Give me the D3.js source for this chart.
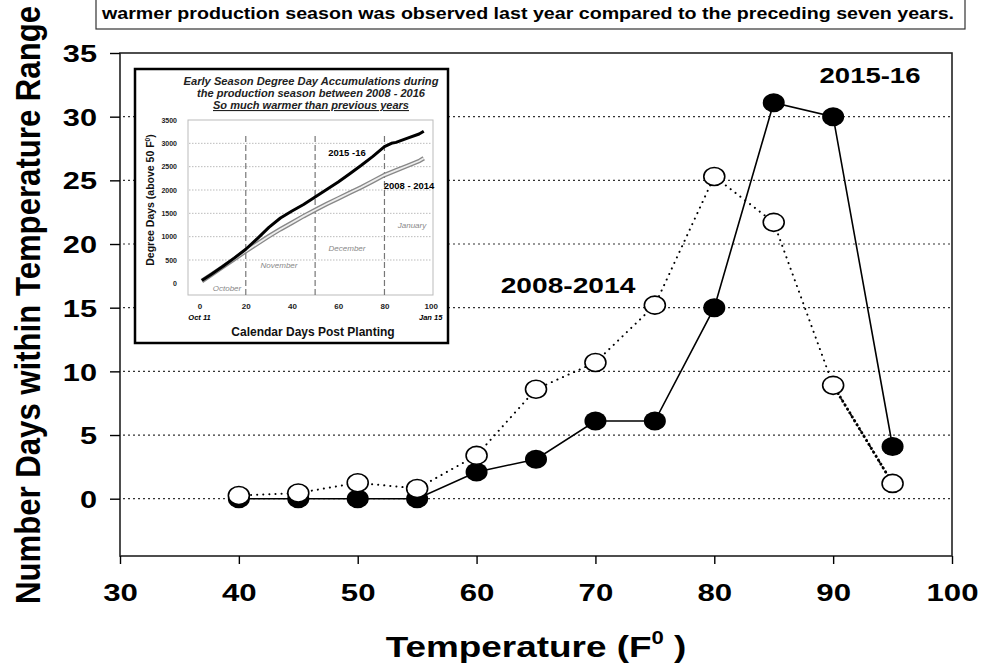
<!DOCTYPE html>
<html>
<head>
<meta charset="utf-8">
<script src="https://cdn.jsdelivr.net/npm/d3@7"></script>
<style>
    body { margin: 0; background: #fff; }
    svg { display: block; font-family: Arial, "Liberation Sans", sans-serif; }
</style>
</head>
<body>
<svg id="chart" width="984" height="669"></svg>
<script>
// Main chart: days in each temperature bin
var temps = [40, 45, 50, 55, 60, 65, 70, 75, 80, 85, 90, 95];
var days2015 = [0, 0, 0, 0, 2.1, 3.1, 6.1, 6.1, 15, 31.1, 30, 4.1];
var days2008 = [0.25, 0.45, 1.25, 0.8, 3.4, 8.6, 10.7, 15.2, 25.3, 21.7, 8.9, 1.2];
var xTicks = [30, 40, 50, 60, 70, 80, 90, 100];
var yTicks = [0, 5, 10, 15, 20, 25, 30, 35];
var gridVals = [0, 5, 10, 15, 20, 25, 30];

// Inset: degree day accumulation
var insetDays2015 = [1, 5, 10, 15, 20, 25, 30, 35, 40, 45, 50, 55, 60, 65, 70, 75, 80, 83, 85, 90, 95, 97];
var dd2015 = [60, 190, 360, 540, 730, 960, 1200, 1400, 1550, 1690, 1850, 2010, 2170, 2350, 2530, 2720, 2930, 3000, 3020, 3110, 3200, 3260];
var insetDays2008 = [1, 5, 10, 15, 20, 25, 30, 35, 40, 45, 50, 55, 60, 65, 70, 75, 80, 85, 90, 95, 97];
var dd2008 = [50, 180, 350, 520, 690, 850, 1010, 1160, 1300, 1440, 1570, 1700, 1820, 1940, 2060, 2190, 2320, 2420, 2520, 2620, 2680];
var insetXTicks = [0, 20, 40, 60, 80, 100];
var insetYTicks = [0, 500, 1000, 1500, 2000, 2500, 3000, 3500];
var insetGrid = [500, 1000, 1500, 2000, 2500, 3000];
var monthBreaks = [20, 50, 80];

var svg = d3.select("#chart");

// Header box (cut off at top of picture)
svg.append("rect")
    .attr("x", 96).attr("y", -5)
    .attr("width", 869).attr("height", 34)
    .attr("fill", "#fff").attr("stroke", "#333").attr("stroke-width", 1.2);
svg.append("text")
    .attr("x", 102).attr("y", 19)
    .attr("font-family", "'Liberation Sans Narrow', 'Arial Narrow', 'Liberation Sans', Arial")
    .attr("font-size", "17px").attr("font-weight", "bold")
    .attr("textLength", 852).attr("lengthAdjust", "spacingAndGlyphs")
    .text("warmer production season was observed last year compared to the preceding seven years.");

// ---- main plot ----
var x = d3.scaleLinear().domain([30, 100]).range([120, 952]);
var y = d3.scaleLinear().domain([-4.5, 35]).range([556, 53]);

svg.append("g").selectAll(".grid")
    .data(gridVals)
    .enter()
    .append("line")
    .attr("class", "grid")
    .attr("x1", 123).attr("x2", 950)
    .attr("y1", function (d) { return y(d); })
    .attr("y2", function (d) { return y(d); })
    .attr("stroke", "#333").attr("stroke-width", 1.2)
    .attr("stroke-dasharray", "2,3");

svg.append("rect")
    .attr("x", 120).attr("y", 53)
    .attr("width", 832).attr("height", 503)
    .attr("fill", "none").attr("stroke", "#222").attr("stroke-width", 1.6);

var yAxis = svg.append("g")
    .attr("transform", "translate(120,0)")
    .call(d3.axisLeft(y).tickValues(yTicks).tickSize(10).tickSizeOuter(0));
yAxis.select(".domain").remove();
yAxis.selectAll("line").attr("stroke", "#000").attr("stroke-width", 1.4);
yAxis.selectAll("text")
    .attr("x", 0).attr("dy", "0.36em")
    .attr("transform", "translate(-23,0) scale(1.28,1)")
    .attr("font-size", "24px").attr("font-weight", "bold")
    .attr("font-family", "Arial, 'Liberation Sans'").attr("fill", "#000");

var xAxis = svg.append("g")
    .attr("transform", "translate(0,556)")
    .call(d3.axisBottom(x).tickValues(xTicks).tickSize(8).tickSizeOuter(0));
xAxis.select(".domain").remove();
xAxis.selectAll("line").attr("stroke", "#000").attr("stroke-width", 1.4);
xAxis.selectAll("text")
    .attr("y", 0).attr("dy", 0)
    .attr("transform", "translate(0,45) scale(1.3,1)")
    .attr("font-size", "24px").attr("font-weight", "bold")
    .attr("font-family", "Arial, 'Liberation Sans'").attr("fill", "#000");

// axis titles
svg.append("text")
    .attr("transform", "translate(40,305) rotate(-90) scale(1,1.15)")
    .attr("text-anchor", "middle")
    .attr("font-size", "30px").attr("font-weight", "bold")
    .attr("textLength", 598).attr("lengthAdjust", "spacingAndGlyphs")
    .text("Number  Days within Temperature Range");

var xTitle = svg.append("text")
    .attr("transform", "translate(536,657) scale(1.23,1)")
    .attr("text-anchor", "middle")
    .attr("font-size", "30px").attr("font-weight", "bold");
xTitle.append("tspan").text("Temperature (F");
xTitle.append("tspan").attr("dy", -13).attr("font-size", "18px").text("0");
xTitle.append("tspan").attr("dy", 13).text(" )");

// series
var mainLine = d3.line()
    .x(function (d) { return x(d[0]); })
    .y(function (d) { return y(d[1]); });
var pts2015 = temps.map(function (t, i) { return [t, days2015[i]]; });
var pts2008 = temps.map(function (t, i) { return [t, days2008[i]]; });

svg.append("path")
    .attr("d", mainLine(pts2015))
    .attr("fill", "none").attr("stroke", "#000").attr("stroke-width", 1.6);
svg.append("path")
    .attr("d", mainLine(pts2008))
    .attr("fill", "none").attr("stroke", "#000").attr("stroke-width", 2)
    .attr("stroke-linecap", "round").attr("stroke-dasharray", "0.1,6");
// heavier dots on the last segment
svg.append("path")
    .attr("d", mainLine(pts2008.slice(-2)))
    .attr("fill", "none").attr("stroke", "#000").attr("stroke-width", 3)
    .attr("stroke-linecap", "round").attr("stroke-dasharray", "0.1,4.5");

svg.append("g").selectAll("ellipse")
    .data(pts2015)
    .enter()
    .append("ellipse")
    .attr("cx", function (d) { return x(d[0]); })
    .attr("cy", function (d) { return y(d[1]); })
    .attr("rx", 11).attr("ry", 9.5)
    .attr("fill", "#000");
svg.append("g").selectAll("ellipse")
    .data(pts2008)
    .enter()
    .append("ellipse")
    .attr("cx", function (d) { return x(d[0]); })
    .attr("cy", function (d) { return y(d[1]); })
    .attr("rx", 10.5).attr("ry", 9)
    .attr("fill", "#fff").attr("stroke", "#000").attr("stroke-width", 1.6);

svg.append("text")
    .attr("transform", "translate(870,83) scale(1.25,1)")
    .attr("text-anchor", "middle")
    .attr("font-size", "22px").attr("font-weight", "bold")
    .text("2015-16");
svg.append("text")
    .attr("transform", "translate(568,293) scale(1.28,1)")
    .attr("text-anchor", "middle")
    .attr("font-size", "22px").attr("font-weight", "bold")
    .text("2008-2014");

// ---- inset ----
var inset = svg.append("g");
inset.append("rect")
    .attr("x", 135).attr("y", 69)
    .attr("width", 313).attr("height", 274)
    .attr("fill", "#fff").attr("stroke", "#000").attr("stroke-width", 2.5);

var ix = d3.scaleLinear().domain([-5, 101]).range([188, 433]);
var iy = d3.scaleLinear().domain([-250, 3500]).range([295, 120]);

var titleLines = [
    "Early Season Degree Day Accumulations during",
    "the production season between 2008 - 2016",
    "So much warmer than previous years"
];
var titleWidths = [255, 228, 196];
inset.selectAll(".ititle")
    .data(titleLines)
    .enter()
    .append("text")
    .attr("class", "ititle")
    .attr("x", 311)
    .attr("y", function (d, i) { return 85 + i * 12; })
    .attr("text-anchor", "middle")
    .attr("font-size", "11px").attr("font-weight", "bold").attr("font-style", "italic")
    .attr("fill", "#222")
    .attr("textLength", function (d, i) { return titleWidths[i]; })
    .attr("lengthAdjust", "spacingAndGlyphs")
    .attr("text-decoration", function (d, i) { return i === 2 ? "underline" : null; })
    .text(function (d) { return d; });

inset.selectAll(".igrid")
    .data(insetGrid)
    .enter()
    .append("line")
    .attr("class", "igrid")
    .attr("x1", 189).attr("x2", 432)
    .attr("y1", function (d) { return iy(d); })
    .attr("y2", function (d) { return iy(d); })
    .attr("stroke", "#aaa").attr("stroke-width", 0.8)
    .attr("stroke-dasharray", "1.5,1.5");

inset.append("rect")
    .attr("x", 188).attr("y", 120)
    .attr("width", 245).attr("height", 175)
    .attr("fill", "none").attr("stroke", "#bbb").attr("stroke-width", 1);

inset.selectAll(".month")
    .data(monthBreaks)
    .enter()
    .append("line")
    .attr("class", "month")
    .attr("x1", function (d) { return ix(d); })
    .attr("x2", function (d) { return ix(d); })
    .attr("y1", 136).attr("y2", 295)
    .attr("stroke", "#777").attr("stroke-width", 1.2)
    .attr("stroke-dasharray", "6,3");

var iyAxis = inset.append("g")
    .attr("transform", "translate(188,0)")
    .call(d3.axisLeft(iy).tickValues(insetYTicks).tickFormat(d3.format("d"))
        .tickSize(0).tickPadding(11));
iyAxis.select(".domain").remove();
iyAxis.selectAll("text")
    .attr("font-size", "7px").attr("font-weight", "bold")
    .attr("font-family", "Arial, 'Liberation Sans'").attr("fill", "#222");

var ixAxis = inset.append("g")
    .attr("transform", "translate(0,295)")
    .call(d3.axisBottom(ix).tickValues(insetXTicks).tickSize(0).tickPadding(8));
ixAxis.select(".domain").remove();
ixAxis.selectAll("text")
    .attr("font-size", "8px").attr("font-weight", "bold")
    .attr("font-family", "Arial, 'Liberation Sans'").attr("fill", "#222");

inset.append("text")
    .attr("x", ix(0)).attr("y", 320)
    .attr("text-anchor", "middle")
    .attr("font-size", "7.5px").attr("font-weight", "bold").attr("font-style", "italic")
    .text("Oct 11");
inset.append("text")
    .attr("x", ix(100)).attr("y", 320)
    .attr("text-anchor", "middle")
    .attr("font-size", "7.5px").attr("font-weight", "bold").attr("font-style", "italic")
    .text("Jan 15");

inset.append("text")
    .attr("x", 313).attr("y", 336)
    .attr("text-anchor", "middle")
    .attr("font-size", "12px").attr("font-weight", "bold").attr("fill", "#111")
    .text("Calendar Days Post Planting");

var iyTitle = inset.append("text")
    .attr("transform", "translate(154,200) rotate(-90)")
    .attr("text-anchor", "middle")
    .attr("font-size", "10.5px").attr("font-weight", "bold").attr("fill", "#111");
iyTitle.append("tspan").text("Degree Days (above 50 F");
iyTitle.append("tspan").attr("dy", -4).attr("font-size", "6.5px").text("0");
iyTitle.append("tspan").attr("dy", 4).text(")");

// month names
inset.append("text").attr("x", 227).attr("y", 291)
    .attr("text-anchor", "middle").attr("font-size", "8px").attr("font-style", "italic")
    .attr("fill", "#888").text("October");
inset.append("text").attr("x", 279).attr("y", 268)
    .attr("text-anchor", "middle").attr("font-size", "8px").attr("font-style", "italic")
    .attr("fill", "#888").text("November");
inset.append("text").attr("x", 347).attr("y", 251)
    .attr("text-anchor", "middle").attr("font-size", "8px").attr("font-style", "italic")
    .attr("fill", "#888").text("December");
inset.append("text").attr("x", 412).attr("y", 228)
    .attr("text-anchor", "middle").attr("font-size", "8px").attr("font-style", "italic")
    .attr("fill", "#888").text("January");

var insetLine = d3.line()
    .x(function (d) { return ix(d[0]); })
    .y(function (d) { return iy(d[1]); });
var ipts2008 = insetDays2008.map(function (t, i) { return [t, dd2008[i]]; });
var ipts2015 = insetDays2015.map(function (t, i) { return [t, dd2015[i]]; });

inset.append("path")
    .attr("d", insetLine(ipts2008))
    .attr("fill", "none").attr("stroke", "#888").attr("stroke-width", 4.5);
inset.append("path")
    .attr("d", insetLine(ipts2008))
    .attr("fill", "none").attr("stroke", "#eee").attr("stroke-width", 1.8);
inset.append("path")
    .attr("d", insetLine(ipts2015))
    .attr("fill", "none").attr("stroke", "#000").attr("stroke-width", 3)
    .attr("stroke-linejoin", "round");

inset.append("text")
    .attr("x", 347).attr("y", 156)
    .attr("text-anchor", "middle")
    .attr("font-size", "9.5px").attr("font-weight", "bold")
    .text("2015 -16");
inset.append("text")
    .attr("x", 409).attr("y", 189)
    .attr("text-anchor", "middle")
    .attr("font-size", "9.5px").attr("font-weight", "bold")
    .text("2008 - 2014");
</script>
</body>
</html>
